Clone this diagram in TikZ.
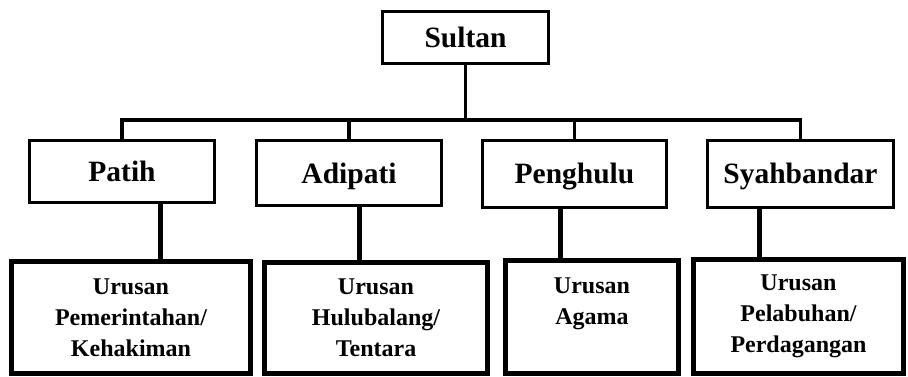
\documentclass[tikz,border=0pt]{standalone}
\usepackage{fontspec}
\setmainfont{Liberation Serif}
\begin{document}
\begin{tikzpicture}[x=1pt,y=-1pt,
  box/.style={draw=black, line width=3pt, fill=white, inner sep=0pt,
    font=\bfseries\fontsize{29.5}{35}\selectfont, text height=20pt, text depth=0pt},
  unit/.style={draw=black, line width=5pt, fill=white, inner sep=0pt, align=center,
    font=\bfseries\fontsize{24}{31}\selectfont},
  link/.style={line width=3.3pt},
  drop/.style={line width=5pt}]
\useasboundingbox (0,0) rectangle (908,377);

% level 1
\node[box, minimum width=166pt, minimum height=52pt] (sultan) at (465.5,37.5) {Sultan};

% level 2
\node[box, minimum width=185pt, minimum height=62pt] (patih) at (122,171.5) {Patih};
\node[box, minimum width=185pt, minimum height=65pt] (adipati) at (349,173) {Adipati};
\node[box, minimum width=184pt, minimum height=67pt] (penghulu) at (574.5,174) {Penghulu};
\node[box, minimum width=186pt, minimum height=67pt] (syah) at (800.5,174) {Syahbandar};

% level 3
\node[unit, minimum width=239pt, minimum height=112pt] (k1) at (131,317.5) {Urusan\\Pemerintahan/\\Kehakiman};
\node[unit, minimum width=223pt, minimum height=111pt] (k2) at (376,318) {Urusan\\Hulubalang/\\Tentara};
\node[unit, minimum width=173pt, minimum height=113pt] (k3) at (592,316.5) {Urusan\\Agama\\\mbox{}};
\node[unit, minimum width=210pt, minimum height=114pt] (k4) at (798.5,316.5) {Urusan\\Pelabuhan/\\Perdagangan};

% bus
\coordinate (bus) at (466,120);
\draw[link] (sultan.south) -- (sultan.south |- bus);
\draw[link] (patih.north) -- (patih.north |- bus) -- (syah.north |- bus) -- (syah.north);
\draw[link] (adipati.north) -- (adipati.north |- bus);
\draw[link] (penghulu.north) -- (penghulu.north |- bus);

% drops to level 3
\draw[drop] ([xshift=38pt]patih.south) -- ([xshift=38pt]patih.south |- k1.north);
\draw[drop] ([xshift=10pt]adipati.south) -- ([xshift=10pt]adipati.south |- k2.north);
\draw[drop] ([xshift=-14.5pt]penghulu.south) -- ([xshift=-14.5pt]penghulu.south |- k3.north);
\draw[drop] ([xshift=-41.5pt]syah.south) -- ([xshift=-41.5pt]syah.south |- k4.north);
\end{tikzpicture}
\end{document}
